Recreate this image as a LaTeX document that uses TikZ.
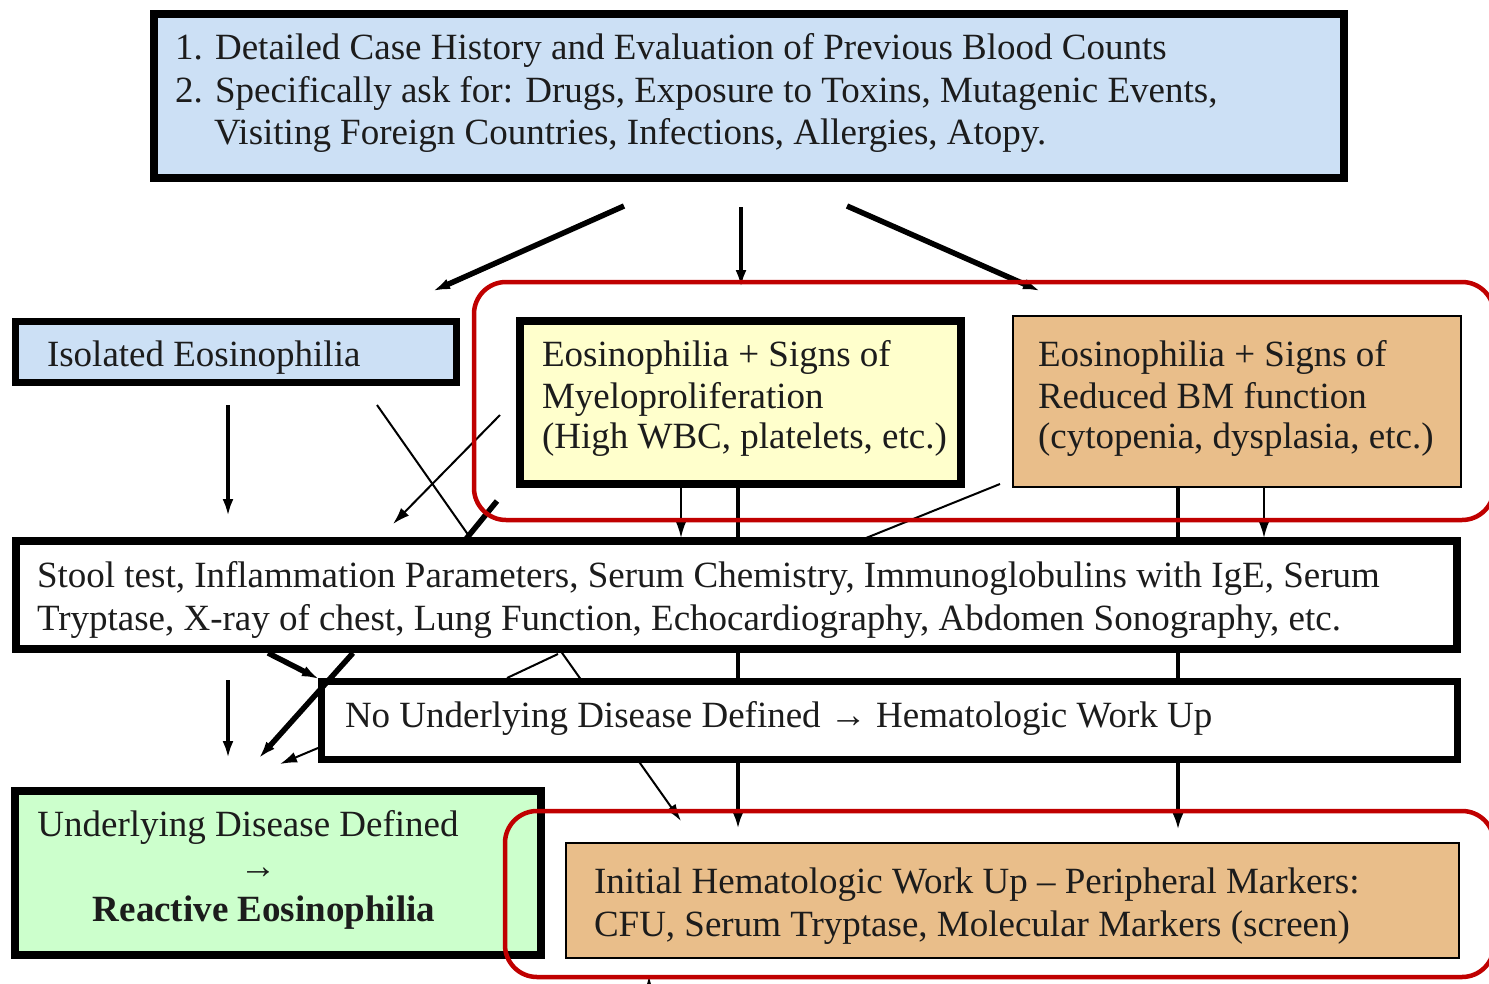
\documentclass[tikz,border=0pt]{standalone}
\usepackage{fontspec}
\setmainfont{Liberation Serif}
\usetikzlibrary{arrows.meta}
\definecolor{boxblue}{RGB}{204,224,245}
\definecolor{boxyellow}{RGB}{255,255,204}
\definecolor{boxtan}{RGB}{233,190,138}
\definecolor{boxgreen}{RGB}{204,255,204}
\definecolor{redframe}{RGB}{192,0,0}
\definecolor{inkc}{RGB}{28,28,28}
\tikzset{
  box/.style={draw=black, rectangle, inner sep=0pt, outer sep=0pt},
  heavybox/.style={box, line width=8pt},
  lightbox/.style={box, line width=2.5pt},
  txt/.style={anchor=base west, inner sep=0pt, outer sep=0pt, font=\fontsize{37}{43}\selectfont, text=inkc},
  ctxt/.style={txt, anchor=base},
  arrowtip/.style={-{Latex[length=17pt,width=11pt]}},
  heavyline/.style={line width=5.5pt},
  midline/.style={line width=4pt},
  thinline/.style={line width=2pt},
  frame/.style={draw=redframe, line width=4.5pt, rounded corners=32pt},
}
\begin{document}
\begin{tikzpicture}[x=1pt,y=-1pt]
\useasboundingbox[fill=white] (0,0) rectangle (1489,983);

% ---------- coordinates for connectors ----------
\coordinate (t1s) at (624,206); \coordinate (t1e) at (433,291);
\coordinate (t2s) at (741,207); \coordinate (t2e) at (741,287);
\coordinate (t3s) at (847,206); \coordinate (t3e) at (1040,291);
\coordinate (i1s) at (228,405); \coordinate (i1e) at (228,516);
\coordinate (xas) at (377,405); \coordinate (xae) at (469,536);
\coordinate (xbs) at (500,415); \coordinate (xbe) at (393,524);
\coordinate (xcs) at (497,501); \coordinate (xce) at (466,539);
\coordinate (y1s) at (681,488); \coordinate (y1e) at (681,538);
\coordinate (y2s) at (738,486); \coordinate (y2e) at (738,829);
\coordinate (o1s) at (1000,484); \coordinate (o1e) at (866,538);
\coordinate (o2s) at (1178,486); \coordinate (o2e) at (1178,830);
\coordinate (o3s) at (1264,488); \coordinate (o3e) at (1264,538);
\coordinate (s1s) at (268,653); \coordinate (s1e) at (319,679);
\coordinate (s2s) at (353,653); \coordinate (s2e) at (259,758);
\coordinate (s3s) at (560,650); \coordinate (s3e) at (681,821);
\coordinate (s4s) at (558,654); \coordinate (s4e) at (507,678);
\coordinate (n1s) at (318,748); \coordinate (n1e) at (280,764);
\coordinate (i2s) at (228,680); \coordinate (i2e) at (228,758);

% ---------- connectors hidden behind boxes ----------
\draw[midline, arrowtip] (y2s) -- (y2e);
\draw[midline, arrowtip] (o2s) -- (o2e);
\draw[thinline, arrowtip] (s3s) -- (s3e);

% ---------- boxes ----------
\node[heavybox, fill=boxblue, minimum width=1190pt, minimum height=164pt] (history) at (749,96) {};
\node[box, line width=7pt, fill=boxblue, minimum width=441pt, minimum height=61pt] (isolated) at (236,352) {};
\node[heavybox, fill=boxyellow, minimum width=441pt, minimum height=163pt] (myelo) at (740.5,402.5) {};
\node[lightbox, fill=boxtan, minimum width=448pt, minimum height=171pt] (reduced) at (1237,401.5) {};
\node[heavybox, fill=white, minimum width=1441pt, minimum height=108pt] (stool) at (736.5,595) {};
\node[box, line width=7pt, fill=white, minimum width=1136pt, minimum height=78pt] (noud) at (889.5,720.5) {};
\node[heavybox, fill=boxgreen, minimum width=526pt, minimum height=164pt] (reactive) at (278,873) {};
\node[lightbox, fill=boxtan, minimum width=893pt, minimum height=115pt] (initial) at (1012.5,900.5) {};

% ---------- texts ----------
\node[txt] (h1) at (175,59) {1. Detailed Case History and Evaluation of Previous Blood Counts};
\node[txt] (h2) at (175,102) {2. Specifically ask for: Drugs, Exposure to Toxins, Mutagenic Events,};
\node[txt] (h3) at (214,144) {Visiting Foreign Countries, Infections, Allergies, Atopy.};
\node[txt] (iso) at (47,366) {Isolated Eosinophilia};
\node[txt] (m1) at (542,366) {Eosinophilia + Signs of};
\node[txt] (m2) at (542,408) {Myeloproliferation};
\node[txt] (m3) at (542,448) {(High WBC, platelets, etc.)};
\node[txt] (r1) at (1038,366) {Eosinophilia + Signs of};
\node[txt] (r2) at (1038,408) {Reduced BM function};
\node[txt] (r3) at (1038,448) {(cytopenia, dysplasia, etc.)};
\node[txt] (st1) at (37,587) {Stool test, Inflammation Parameters, Serum Chemistry, Immunoglobulins with IgE, Serum};
\node[txt] (st2) at (37,630) {Tryptase, X-ray of chest, Lung Function, Echocardiography, Abdomen Sonography, etc.};
\node[txt] (nu) at (345,727) {No Underlying Disease Defined → Hematologic Work Up};
\node[ctxt] (g1) at (248,836) {Underlying Disease Defined};
\node[ctxt] (g2) at (258,878) {→};
\node[ctxt, font=\fontsize{37}{43}\selectfont\bfseries] (g3) at (264,921) {Reactive Eosinophilia};
\node[txt] (in1) at (594,893) {Initial Hematologic Work Up – Peripheral Markers:};
\node[txt] (in2) at (594,936) {CFU, Serum Tryptase, Molecular Markers (screen)};

% ---------- connectors ----------
\draw[heavyline, arrowtip] (t1s) -- (t1e);
\draw[midline, line width=3.5pt, arrowtip] (t2s) -- (t2e);
\draw[heavyline, arrowtip] (t3s) -- (t3e);
\draw[midline, arrowtip] (i1s) -- (i1e);
\draw[thinline] (xas) -- (xae);
\draw[thinline, arrowtip] (xbs) -- (xbe);
\draw[heavyline] (xcs) -- (xce);
\draw[thinline, arrowtip] (y1s) -- (y1e);
\draw[thinline] (o1s) -- (o1e);
\draw[thinline, arrowtip] (o3s) -- (o3e);
\draw[heavyline, arrowtip] (s1s) -- (s1e);
\draw[heavyline, arrowtip] (s2s) -- (s2e);
\draw[thinline] (s4s) -- (s4e);
\draw[thinline, arrowtip] (n1s) -- (n1e);
\draw[midline, arrowtip] (i2s) -- (i2e);
\coordinate (cuts) at (649,995); \coordinate (cute) at (649,976);
\draw[thinline, arrowtip] (cuts) -- (cute);

% ---------- red frames ----------
\draw[frame] (474,282) rectangle (1494,520);
\draw[frame] (505,811) rectangle (1494,977);
\end{tikzpicture}
\end{document}
